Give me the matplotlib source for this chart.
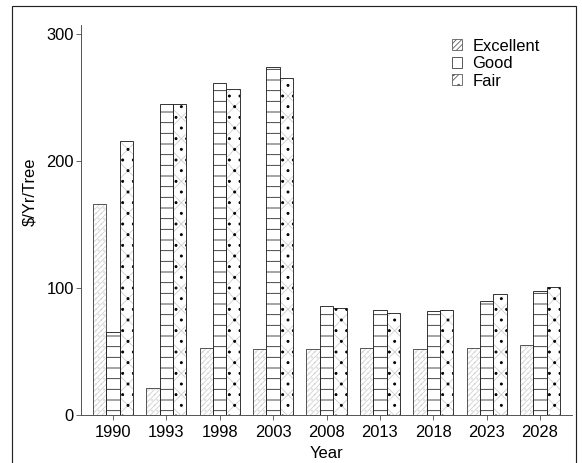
import numpy as np
import matplotlib
matplotlib.use("Agg")
import matplotlib.pyplot as plt
from matplotlib.patches import Rectangle, Patch

years = ["1990", "1993", "1998", "2003", "2008", "2013", "2018", "2023", "2028"]
excellent = [166, 21, 53, 52, 52, 53, 52, 53, 55]
good = [65, 245, 261, 274, 86, 83, 82, 90, 98]
fair = [216, 245, 257, 265, 84, 80, 83, 95, 101]
yticks = [0, 100, 200, 300]
series_names = ["Excellent", "Good", "Fair"]

DPI = 64
plt.rcParams["font.family"] = ["Liberation Sans", "DejaVu Sans"]
plt.rcParams["hatch.linewidth"] = 0.9

fig = plt.figure(figsize=(582 / DPI, 463 / DPI), dpi=DPI)
W, H = 582, 463
ax = fig.add_axes([81 / W, 1 - 415 / H, (572 - 81) / W, (415 - 25) / H])

x = np.arange(len(years))
w = 0.25
edge = "#222222"
FS = 18.5

# Excellent: light stipple/diagonal
ax.bar(x - w, excellent, w, color="white", edgecolor="#d0d0d0", hatch="////", lw=0, zorder=2)
ax.bar(x - w, excellent, w, fill=False, edgecolor="#d8d8d8", hatch="..", lw=0, zorder=2.2)
ax.bar(x - w, excellent, w, fill=False, edgecolor="#333333", lw=0.9, zorder=3)
# Good: horizontal lines
ax.bar(x, good, w, color="white", edgecolor=edge, hatch="-", lw=0, zorder=2)
ax.bar(x, good, w, fill=False, edgecolor=edge, lw=1.0, zorder=3)
# Fair: faint crosses with dots
ax.bar(x + w, fair, w, color="white", edgecolor="#cccccc", hatch="x", lw=0, zorder=2)
ax.bar(x + w, fair, w, fill=False, edgecolor="black", hatch=".", lw=0, zorder=2.5)
ax.bar(x + w, fair, w, fill=False, edgecolor=edge, lw=1.0, zorder=3)

ax.set_xlim(-0.6, 8.6)
ax.set_ylim(0, 307)
ax.set_xticks(x)
ax.set_xticklabels(years)
ax.set_yticks(yticks)
ax.tick_params(axis="both", labelsize=FS, length=6, width=0.9, color="#444444", direction="out")
ax.tick_params(axis="x", pad=5)
ax.tick_params(axis="y", pad=2)

for s in ["top", "right"]:
    ax.spines[s].set_visible(False)
for s in ["left", "bottom"]:
    ax.spines[s].set_linewidth(1.0)
    ax.spines[s].set_color("#444444")

ax.set_ylabel("$/Yr/Tree", fontsize=FS)
ax.yaxis.set_label_coords(-0.09, 0.572)
ax.set_xlabel("Year", fontsize=FS)
ax.xaxis.set_label_coords(0.5, -0.08)

handles = [
    Patch(facecolor="white", edgecolor="#555555", hatch="////", lw=0.9),
    Patch(facecolor="white", edgecolor="#333333", lw=0.9),
    Patch(facecolor="white", edgecolor="#555555", hatch="/.", lw=0.9),
]
ax.legend(handles, series_names, loc="upper left", bbox_to_anchor=(0.755, 0.965),
          frameon=False, fontsize=FS, borderpad=0, borderaxespad=0,
          handlelength=0.65, handleheight=0.65, handletextpad=0.6, labelspacing=0.15)

fig.add_artist(Rectangle((12 / W, -0.02), (576 - 12) / W, 1.02 - 6 / H,
                         transform=fig.transFigure, fill=False, edgecolor="#222222", lw=1.3))

fig.savefig("out.png", dpi=DPI)
